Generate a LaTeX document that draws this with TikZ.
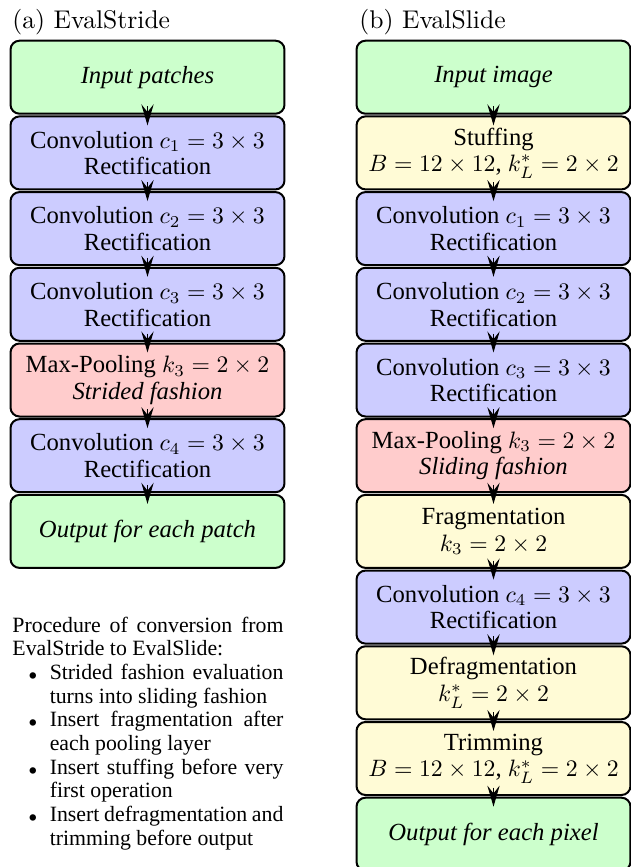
\documentclass[tikz,border=0pt]{standalone}
\usepackage[no-math]{fontspec}
\newfontfamily\tms{Liberation Serif}
\usetikzlibrary{arrows.meta}
\newdimen\U \U=0.4219pt
\definecolor{cgreen}{RGB}{204,255,204}
\definecolor{cblue}{RGB}{204,204,255}
\definecolor{cred}{RGB}{255,204,204}
\definecolor{cyellow}{RGB}{255,251,214}
\newcommand{\bul}{\makebox[37.3\U][l]{\hspace*{16\U}$\scriptstyle\bullet$}}
\newcommand{\ind}{\hspace*{37.3\U}}
\tikzset{
  box/.style={draw=black, line width=0.844pt, rounded corners=3.8pt, minimum width=115.6pt, minimum height=30.8pt, inner sep=0pt, align=center, font=\tms\fontsize{10.4}{11.2}\selectfont},
  inbox/.style={box, fill=cgreen},
  convbox/.style={box, fill=cblue},
  poolbox/.style={box, fill=cred},
  fragbox/.style={box, fill=cyellow},
  arr/.style={line width=0.42pt, -{Stealth[length=8.9pt, width=5.2pt, inset=3.3pt]}},
  title/.style={anchor=base west, inner sep=0pt, font=\fontsize{10.8}{12}\selectfont},
}
\begin{document}
\begin{tikzpicture}[x=0.4219pt, y=-0.4219pt]
\useasboundingbox (0,0) rectangle (631,867);
\clip (0,0) rectangle (631,867);
% titles
\node[title] (ta) at (12,28) {(a) EvalStride};
\node[title] (tb) at (359,28) {(b) EvalSlide};
% left column
\node[inbox]   (a1) at (147.5,77.2)  {\itshape Input patches};
\node[convbox] (a2) at (147.5,152.9) {Convolution $c_1 = 3\times 3$\\Rectification};
\node[convbox] (a3) at (147.5,228.6) {Convolution $c_2 = 3\times 3$\\Rectification};
\node[convbox] (a4) at (147.5,304.3) {Convolution $c_3 = 3\times 3$\\Rectification};
\node[poolbox] (a5) at (147.5,380.0) {Max-Pooling $k_3 = 2\times 2$\\\textit{Strided fashion}};
\node[convbox] (a6) at (147.5,455.7) {Convolution $c_4 = 3\times 3$\\Rectification};
\node[inbox]   (a7) at (147.5,531.4) {\itshape Output for each patch};
% right column
\node[inbox]   (b1)  at (493.5,77.2)  {\itshape Input image};
\node[fragbox] (b2)  at (493.5,152.9) {Stuffing\\$B = 12\times 12$, $k_L^* = 2\times 2$};
\node[convbox] (b3)  at (493.5,228.6) {Convolution $c_1 = 3\times 3$\\Rectification};
\node[convbox] (b4)  at (493.5,304.3) {Convolution $c_2 = 3\times 3$\\Rectification};
\node[convbox] (b5)  at (493.5,380.0) {Convolution $c_3 = 3\times 3$\\Rectification};
\node[poolbox] (b6)  at (493.5,455.7) {Max-Pooling $k_3 = 2\times 2$\\\textit{Sliding fashion}};
\node[fragbox] (b7)  at (493.5,531.4) {Fragmentation\\$k_3 = 2\times 2$};
\node[convbox] (b8)  at (493.5,607.1) {Convolution $c_4 = 3\times 3$\\Rectification};
\node[fragbox] (b9)  at (493.5,682.8) {Defragmentation\\$k_L^* = 2\times 2$};
\node[fragbox] (b10) at (493.5,758.5) {Trimming\\$B = 12\times 12$, $k_L^* = 2\times 2$};
\node[inbox]   (b11) at (493.5,834.2) {\itshape Output for each pixel};
% arrows
\foreach \p/\q in {a1/a2,a2/a3,a3/a4,a4/a5,a5/a6,a6/a7,b1/b2,b2/b3,b3/b4,b4/b5,b5/b6,b6/b7,b7/b8,b8/b9,b9/b10,b10/b11}
  \draw[arr] ([yshift=3.5pt]\p.south) -- ([yshift=-4.2pt]\q.north);
% procedure text
\node[anchor=base west, inner sep=0pt] (proc) at (12,632) {\parbox[t]{271\U}{\tms\fontsize{9.2}{10}\selectfont
\makebox[271\U][s]{Procedure of conversion from}\\
EvalStride to EvalSlide:\\
\bul\makebox[233.7\U][s]{Strided fashion evaluation}\\
\ind turns into sliding fashion\\
\bul\makebox[233.7\U][s]{Insert fragmentation after}\\
\ind each pooling layer\\
\bul\makebox[233.7\U][s]{Insert stuffing before very}\\
\ind first operation\\
\bul\makebox[233.7\U][s]{Insert defragmentation and}\\
\ind trimming before output}};
\end{tikzpicture}
\end{document}
